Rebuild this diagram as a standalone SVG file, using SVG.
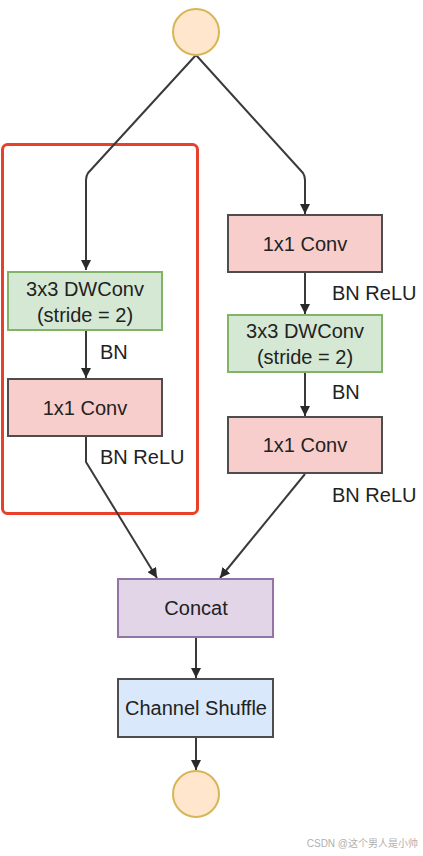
<svg xmlns="http://www.w3.org/2000/svg" width="423" height="856" viewBox="0 0 423 856">
<style>
.lbl{font-family:"Liberation Sans",Arial,sans-serif;font-size:20px;fill:#222;}
.c{text-anchor:middle;dominant-baseline:central;}
.pink{fill:#f8cecc;stroke:#4d4d4d;stroke-width:2;}
.green{fill:#d5e8d4;stroke:#82b366;stroke-width:2;}
.purple{fill:#e1d5e7;stroke:#9673a6;stroke-width:2;}
.blue{fill:#dae8fc;stroke:#4d4d4d;stroke-width:2;}
.circ{fill:#ffe6cc;stroke:#d6b656;stroke-width:2;}
.edge{fill:none;stroke:#3a3a3a;stroke-width:2;stroke-linejoin:round;}
</style>
<defs>
<marker id="arr" viewBox="0 0 10 10" refX="10" refY="5" markerWidth="10" markerHeight="10" markerUnits="userSpaceOnUse" orient="auto">
<path d="M0,0 L10,5 L0,10 Z" fill="#2a2a2a"/>
</marker>
</defs>
<rect width="423" height="856" fill="#ffffff"/>
<g id="highlight">
<rect x="2.5" y="144.5" width="195" height="369" rx="5" fill="none" stroke="#e8402a" stroke-width="3"/>
</g>
<g id="connectors">
<path class="edge" d="M196,55 L88,173 Q86,176 86,180 L86,270" marker-end="url(#arr)"/>
<path class="edge" d="M196,55 L303,173 Q305,176 305,180 L305,214" marker-end="url(#arr)"/>
<path class="edge" d="M86,331 L86,378" marker-end="url(#arr)"/>
<path class="edge" d="M305,273 L305,314" marker-end="url(#arr)"/>
<path class="edge" d="M305,373 L305,416" marker-end="url(#arr)"/>
<path class="edge" d="M86,437 L86,462 L157,578" marker-end="url(#arr)"/>
<path class="edge" d="M305,474 L220,578" marker-end="url(#arr)"/>
<path class="edge" d="M196,638 L196,678" marker-end="url(#arr)"/>
<path class="edge" d="M196,738 L196,770" marker-end="url(#arr)"/>
<text class="lbl" x="100" y="352" dominant-baseline="central">BN</text>
<text class="lbl" x="100" y="457" dominant-baseline="central">BN ReLU</text>
<text class="lbl" x="332" y="293" dominant-baseline="central">BN ReLU</text>
<text class="lbl" x="332" y="392" dominant-baseline="central">BN</text>
<text class="lbl" x="332" y="495" dominant-baseline="central">BN ReLU</text>
</g>
<g id="input">
<circle class="circ" cx="196" cy="32" r="23"/>
</g>
<g id="left_dwconv">
<rect class="green" x="8" y="272" width="154" height="58"/>
<text class="lbl c" x="85" y="289">3x3 DWConv</text>
<text class="lbl c" x="85" y="315">(stride = 2)</text>
</g>
<g id="left_conv">
<rect class="pink" x="8" y="379" width="154" height="57"/>
<text class="lbl c" x="85" y="408">1x1 Conv</text>
</g>
<g id="right_conv1">
<rect class="pink" x="228" y="215" width="154" height="57"/>
<text class="lbl c" x="305" y="244">1x1 Conv</text>
</g>
<g id="right_dwconv">
<rect class="green" x="228" y="315" width="154" height="57"/>
<text class="lbl c" x="305" y="331">3x3 DWConv</text>
<text class="lbl c" x="305" y="357">(stride = 2)</text>
</g>
<g id="right_conv2">
<rect class="pink" x="228" y="417" width="154" height="56"/>
<text class="lbl c" x="305" y="445">1x1 Conv</text>
</g>
<g id="concat">
<rect class="purple" x="118" y="579" width="155" height="58"/>
<text class="lbl c" x="196" y="608">Concat</text>
</g>
<g id="shuffle">
<rect class="blue" x="118" y="679" width="155" height="58"/>
<text class="lbl c" x="196" y="708">Channel Shuffle</text>
</g>
<g id="output">
<circle class="circ" cx="196" cy="794" r="23"/>
</g>
<text x="418" y="843" text-anchor="end" dominant-baseline="central" font-family="'Liberation Sans','Noto Sans CJK SC',sans-serif" font-size="10" fill="#b0b0b0">CSDN @这个男人是小帅</text>
</svg>
